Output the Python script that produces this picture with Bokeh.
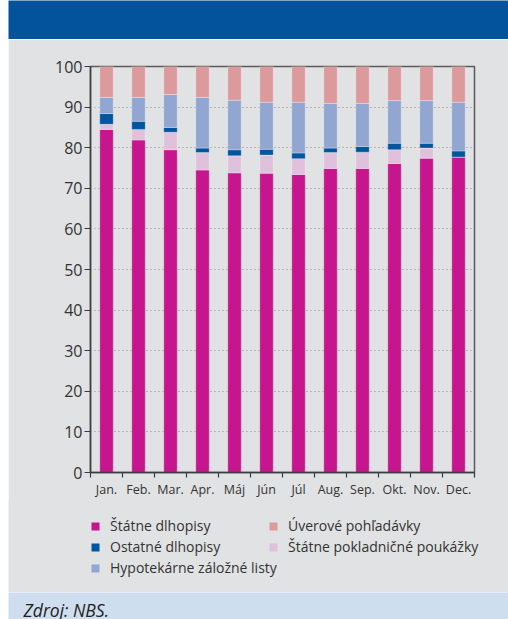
from bokeh.plotting import figure
from bokeh.models import ColumnDataSource, Range1d, FixedTicker, Legend, LegendItem, Label
from bokeh.layouts import column
from bokeh.embed import file_html
from bokeh.resources import INLINE

# ---------------- data ----------------
months = ["Jan.", "Feb.", "Mar.", "Apr.", "Máj", "Jún", "Júl", "Aug.", "Sep.", "Okt.", "Nov.", "Dec."]
statne_dlhopisy = [84.5, 81.9, 79.5, 74.5, 73.8, 73.7, 73.4, 74.9, 74.9, 76.1, 77.4, 77.7]
statne_pokladnicne = [1.25, 2.6, 4.3, 4.3, 4.2, 4.5, 3.9, 3.9, 4.0, 3.4, 2.5, 0.0]
ostatne_dlhopisy = [2.65, 2.0, 1.2, 1.1, 1.5, 1.4, 1.4, 1.1, 1.4, 1.6, 1.2, 1.5]
hypotekarne = [4.0, 5.9, 8.1, 12.5, 12.2, 11.6, 12.5, 11.0, 10.6, 10.5, 10.5, 12.0]
uverove = [7.6, 7.6, 6.9, 7.6, 8.3, 8.8, 8.8, 9.1, 9.1, 8.4, 8.4, 8.8]
series_names = ["Štátne dlhopisy", "Štátne pokladničné poukážky", "Ostatné dlhopisy",
                "Hypotekárne záložné listy", "Úverové pohľadávky"]
colors = ["#c6168d", "#e0c1dc", "#00559f", "#91a6d1", "#dd9a9c"]
y_ticks = list(range(0, 101, 10))
source_text = "Zdroj: NBS."

FONT = "Open Sans"
BG = "#e1e2e4"
W = 500


def no_align(fig):
    if "frame_align" in type(fig).properties():
        fig.frame_align = False


def blank(height, color):
    f = figure(width=W, height=height, x_range=(0, 1), y_range=(0, 1), x_axis_type=None,
               y_axis_type=None, min_border=0, output_backend="svg", toolbar_location=None)
    f.background_fill_color = color
    f.border_fill_color = color
    f.outline_line_color = None
    f.grid.visible = False
    no_align(f)
    return f


# ---------------- header band ----------------
header = blank(39, "#02529c")

# ---------------- main chart ----------------
xs = [i + 0.5 for i in range(len(months))]
keys = ["s0", "s1", "s2", "s3", "s4"]
src = ColumnDataSource(dict(x=xs, s0=statne_dlhopisy, s1=statne_pokladnicne, s2=ostatne_dlhopisy,
                            s3=hypotekarne, s4=uverove))

p = figure(width=W, height=461, x_range=Range1d(0, len(months)), y_range=Range1d(0, 100),
           output_backend="svg", toolbar_location=None,
           min_border_left=82, min_border_right=34, min_border_top=27, min_border_bottom=22)
no_align(p)
p.background_fill_color = BG
p.border_fill_color = BG
p.outline_line_color = "#5a5a5a"
p.outline_line_width = 1.5

rs = p.vbar_stack(keys, x="x", width=0.42, source=src, fill_color=colors,
                  line_color="white", line_alpha=0.3, line_width=1)

# x axis
p.xaxis.ticker = FixedTicker(ticks=xs, minor_ticks=list(range(len(months) + 1)))
p.xaxis.major_label_overrides = {x: m for x, m in zip(xs, months)}
p.xaxis.major_tick_line_color = None
p.xaxis.major_tick_out = 0
p.xaxis.major_tick_in = 0
p.xaxis.minor_tick_out = 5
p.xaxis.minor_tick_in = 0
p.xaxis.minor_tick_line_color = "#3c3c3c"
p.xaxis.minor_tick_line_width = 1.2
p.xaxis.major_label_standoff = 3
p.xaxis.major_label_text_font_size = "12.5px"

# y axis
p.yaxis.ticker = FixedTicker(ticks=y_ticks)
p.yaxis.minor_tick_line_color = None
p.yaxis.major_tick_out = 6
p.yaxis.major_tick_in = 0
p.yaxis.major_tick_line_color = "#3c3c3c"
p.yaxis.major_tick_line_width = 1.2
p.yaxis.major_label_standoff = 2
p.yaxis.major_label_text_font_size = "16px"

for ax in (p.xaxis[0], p.yaxis[0]):
    ax.axis_line_color = "#3c3c3c"
    ax.axis_line_width = 1.5
    ax.major_label_text_font = FONT
    ax.major_label_text_color = "#333333"

p.xgrid.visible = False
p.ygrid.grid_line_color = "#8c8c8c"
p.ygrid.grid_line_dash = "1 3"
p.ygrid.grid_line_width = 1

# ---------------- legend area ----------------
lf = blank(93, BG)
lf.margin = (-1, 0, 0, 0)
# legend swatches: zero-size proxy renderers carrying the series colours
proxies = [lf.vbar(x=[0], bottom=[0], top=[0], width=0, fill_color=c, line_color=None)
           for c in colors]
leg1 = Legend(items=[LegendItem(label=series_names[0], renderers=[proxies[0]]),
                     LegendItem(label=series_names[2], renderers=[proxies[2]]),
                     LegendItem(label=series_names[3], renderers=[proxies[3]])],
              location=(82, 14))
leg2 = Legend(items=[LegendItem(label=series_names[4], renderers=[proxies[4]]),
                     LegendItem(label=series_names[1], renderers=[proxies[1]])],
              location=(260, 35))
for lg in (leg1, leg2):
    lg.background_fill_alpha = 0
    lg.border_line_color = None
    lg.padding = 0
    lg.margin = 0
    lg.spacing = 0
    lg.glyph_width = 10
    lg.glyph_height = 10
    lg.label_standoff = 10
    lg.label_height = 21
    lg.label_text_font = FONT
    lg.label_text_font_size = "14px"
    lg.label_text_color = "#333333"
    lf.add_layout(lg)

# ---------------- footer ----------------
foot = blank(27, "#cfdeee")
foot.add_layout(Label(x=15, y=-2, x_units="screen", y_units="screen", text=source_text,
                      text_font=FONT, text_font_style="italic", text_font_size="17.5px",
                      text_baseline="bottom", text_color="#222222"))

layout = column(header, p, lf, foot, spacing=0, margin=(0, 0, 0, 8))
open("out.html", "w").write(file_html(layout, INLINE))
